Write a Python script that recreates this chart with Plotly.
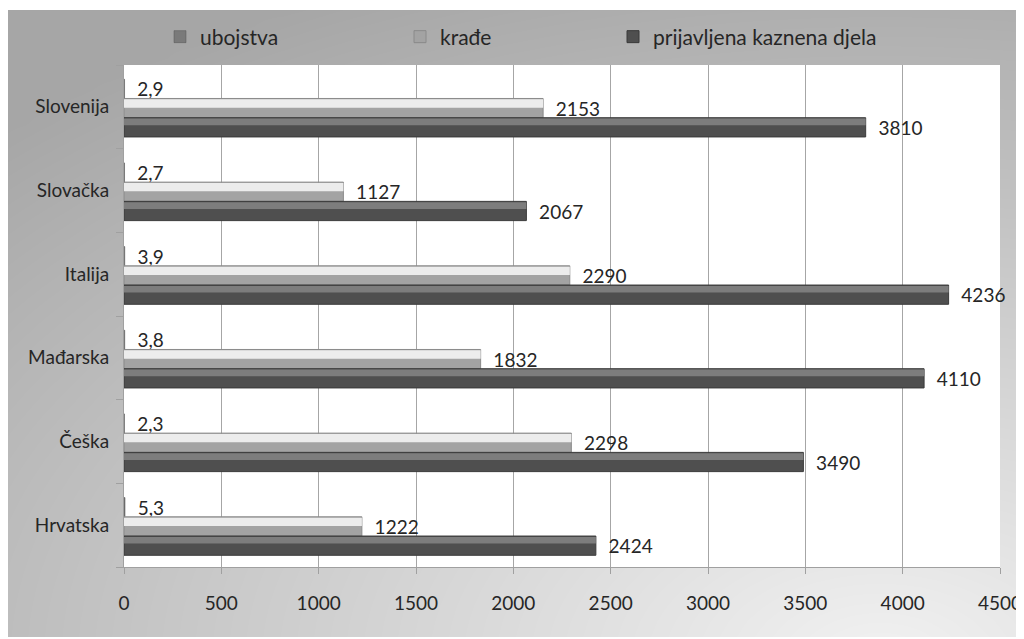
import numpy as np
import plotly.graph_objects as go

# data
countries = ["Hrvatska", "Češka", "Mađarska", "Italija", "Slovačka", "Slovenija"]
ubojstva = [5.3, 2.3, 3.8, 3.9, 2.7, 2.9]
krade = [1222, 2298, 1832, 2290, 1127, 2153]
kaznena_djela = [2424, 3490, 4110, 4236, 2067, 3810]
x_ticks = [0, 500, 1000, 1500, 2000, 2500, 3000, 3500, 4000, 4500]

# the page body adds an 8px margin, so the figure is a bit smaller
OFF = 8
W, H = 1024 - OFF, 639 - OFF
FONT = "Lato"
TXT = "#262626"
NB = "\u00a0\u00a0"


def px_x(p):
    return max(0, (p - OFF) / W)


def px_y(p):
    return min(1, max(0, 1 - (p - OFF) / H))


def lbl(v, dec=False):
    s = f"{v:.1f}".replace(".", ",") if dec else str(v)
    return NB + s


fig = go.Figure()

# background gradient of the chart area (lighter towards bottom-right)
gx = np.linspace(0, 1, 60)
gy = np.linspace(0, 1, 40)
X, Y = np.meshgrid(gx, gy)
pxx = 7 + X * 1017
pyy = 637 - Y * 627
d = np.sqrt(((pxx - 880) / 1100) ** 2 + ((pyy - 660) / 640) ** 2)
z = 1 - np.clip(d, 0, 1.15) / 1.15
fig.add_trace(go.Heatmap(x=gx, y=gy, z=z, zsmooth="best", showscale=False,
                         colorscale=[[0, "#a6a6a6"], [1, "#efefef"]],
                         hoverinfo="skip", xaxis="x", yaxis="y"))

bar_h = 0.23
lblfont = dict(size=19, color=TXT, family=FONT)
# ubojstva (top bar of each group)
fig.add_trace(go.Bar(y=countries, x=ubojstva, orientation="h", name="ubojstva",
                     offset=0.10, width=bar_h, marker=dict(color="#7a7a7a", line=dict(color="#555", width=0.5)),
                     text=[lbl(v, True) for v in ubojstva], textposition="outside",
                     textfont=lblfont, cliponaxis=False, constraintext="none",
                     xaxis="x2", yaxis="y2", legend="legend"))
# krađe
fig.add_trace(go.Bar(y=countries, x=krade, orientation="h", name="krađe",
                     offset=-0.13, width=bar_h, marker=dict(color="#a3a3a3", line=dict(color="#8a8a8a", width=1)),
                     text=[lbl(v) for v in krade], textposition="outside",
                     textfont=lblfont, cliponaxis=False, constraintext="none",
                     xaxis="x2", yaxis="y2", legend="legend2"))
fig.add_trace(go.Bar(y=countries, x=krade, orientation="h", showlegend=False, hoverinfo="skip",
                     offset=-0.01, width=0.10, marker=dict(color="#ececec", line=dict(width=0)),
                     xaxis="x2", yaxis="y2"))
# prijavljena kaznena djela
fig.add_trace(go.Bar(y=countries, x=kaznena_djela, orientation="h", name="prijavljena kaznena djela",
                     offset=-0.36, width=bar_h, marker=dict(color="#4f4f4f", line=dict(color="#3a3a3a", width=1)),
                     text=[lbl(v) for v in kaznena_djela], textposition="outside",
                     textfont=lblfont, cliponaxis=False, constraintext="none",
                     xaxis="x2", yaxis="y2", legend="legend3"))
fig.add_trace(go.Bar(y=countries, x=kaznena_djela, orientation="h", showlegend=False, hoverinfo="skip",
                     offset=-0.22, width=0.08, marker=dict(color="#7d7d7d", line=dict(width=0)),
                     xaxis="x2", yaxis="y2"))

# white plot area above the gradient
fig.add_shape(type="rect", xref="x2", yref="y2", x0=0, x1=4500, y0=-0.5, y1=5.5,
              fillcolor="white", line=dict(width=0), layer="below")

leg = dict(orientation="h", yanchor="middle", y=px_y(37), xanchor="left",
           bgcolor="rgba(0,0,0,0)", font=dict(size=21, color=TXT, family=FONT),
           itemwidth=30)
fig.update_layout(
    width=W, height=H,
    margin=dict(l=0, r=0, t=0, b=0, autoexpand=False),
    paper_bgcolor="white", plot_bgcolor="rgba(0,0,0,0)",
    barmode="overlay",
    font=dict(family=FONT, color=TXT),
    showlegend=True,
    legend=dict(leg, x=px_x(160)),
    legend2=dict(leg, x=px_x(400)),
    legend3=dict(leg, x=px_x(613)),
    xaxis=dict(domain=[px_x(7), 1], range=[0, 1], visible=False, fixedrange=True),
    yaxis=dict(domain=[px_y(637), px_y(10)], range=[0, 1], visible=False, fixedrange=True),
    xaxis2=dict(domain=[px_x(124), px_x(1000)], anchor="y2", range=[0, 4500],
                tickvals=x_ticks, ticktext=[str(t) for t in x_ticks],
                showgrid=True, gridcolor="#a6a6a6", gridwidth=1,
                showline=True, linecolor="#a0a0a0", linewidth=1,
                ticks="outside", ticklen=6, tickcolor="#a0a0a0",
                tickfont=dict(size=19, color=TXT, family=FONT),
                ticklabelstandoff=13, zeroline=False, automargin=False),
    yaxis2=dict(domain=[px_y(567), px_y(65)], anchor="x2", type="category",
                categoryorder="array", categoryarray=countries, range=[-0.5, 5.5],
                showline=True, linecolor="#a0a0a0", linewidth=1,
                ticks="outside", ticklen=7, tickcolor="#a0a0a0", tickson="boundaries",
                tickfont=dict(size=19, color=TXT, family=FONT),
                ticklabelstandoff=10, showgrid=False, automargin=False),
)

fig.write_html("out.html")
